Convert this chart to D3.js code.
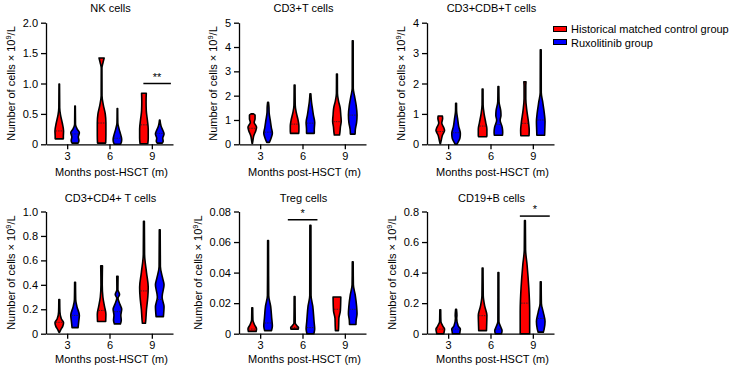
<!DOCTYPE html>
<html>
<head>
<meta charset="utf-8">
<script src="https://cdn.jsdelivr.net/npm/d3@7"></script>
<style>
body { margin: 0; background: #fff; }
svg { display: block; font-family: "Liberation Sans", Arial, sans-serif; }
</style>
</head>
<body>
<script>
const months = [3, 6, 9];
const groupNames = ['Historical matched control group', 'Ruxolitinib group'];
const groupColors = ['#ff0000', '#0000ff'];
const panelTitles = ['NK cells', 'CD3+T cells', 'CD3+CDB+T cells', 'CD3+CD4+ T cells', 'Treg cells', 'CD19+B cells'];
const yMax = [2, 5, 4, 1, 0.08, 0.8];
const yTicks = [
    [0, 0.5, 1, 1.5, 2],
    [0, 1, 2, 3, 4, 5],
    [0, 1, 2, 3, 4],
    [0, 0.2, 0.4, 0.6, 0.8, 1],
    [0, 0.02, 0.04, 0.06, 0.08],
    [0, 0.2, 0.4, 0.6, 0.8]
];
const yTickFormats = ['.1f', 'd', 'd', '.1f', '.2f', '.1f'];
const xLabel = 'Months post-HSCT (m)';

// each violin: month, group (0 = control, 1 = ruxolitinib), median,
// shape = [value, relative density width] from top to bottom
const nkViolins = [
    {month: 3, group: 0, median: 0.22, shape: [[0.99, 0.06], [0.6, 0.1], [0.48, 0.3], [0.35, 0.7], [0.22, 1], [0.12, 0.95], [0.09, 0.95]]},
    {month: 3, group: 1, median: 0.17, shape: [[0.63, 0.06], [0.33, 0.1], [0.25, 0.5], [0.19, 1], [0.12, 0.75], [0.06, 0.9], [0.02, 0.7]]},
    {month: 6, group: 0, median: 0.35, shape: [[1.42, 0.6], [1.35, 0.35], [1.25, 0.08], [0.8, 0.1], [0.65, 0.4], [0.5, 0.85], [0.35, 1], [0.15, 1], [0.02, 0.95]]},
    {month: 6, group: 1, median: 0.1, shape: [[0.59, 0.06], [0.35, 0.1], [0.25, 0.4], [0.15, 0.8], [0.08, 1], [0.03, 0.9], [0.0, 0.7]]},
    {month: 9, group: 0, median: 0.32, shape: [[0.84, 0.55], [0.7, 0.5], [0.55, 0.55], [0.4, 0.8], [0.25, 1], [0.1, 1], [0.01, 0.9]]},
    {month: 9, group: 1, median: 0.18, shape: [[0.4, 0.06], [0.3, 0.3], [0.2, 0.9], [0.17, 1], [0.1, 0.7], [0.05, 0.8], [0.02, 0.6]]}
];
const cd3Violins = [
    {month: 3, group: 0, median: 0.66, shape: [[1.25, 0.3], [1.2, 0.65], [1.05, 0.65], [0.9, 0.45], [0.7, 1], [0.55, 0.8], [0.35, 0.35], [0.15, 0.15], [0.04, 0.05]]},
    {month: 3, group: 1, median: 0.5, shape: [[1.73, 0.1], [1.55, 0.2], [1.3, 0.25], [1.0, 0.5], [0.7, 0.75], [0.45, 1], [0.25, 0.7], [0.08, 0.3]]},
    {month: 6, group: 0, median: 0.83, shape: [[2.44, 0.1], [1.6, 0.15], [1.3, 0.4], [1.0, 0.8], [0.75, 1], [0.55, 1], [0.45, 0.95]]},
    {month: 6, group: 1, median: 0.87, shape: [[2.08, 0.1], [1.75, 0.25], [1.5, 0.45], [1.2, 0.7], [0.9, 1], [0.6, 0.9], [0.45, 0.9]]},
    {month: 9, group: 0, median: 0.93, shape: [[2.89, 0.1], [2.1, 0.12], [1.8, 0.35], [1.5, 0.75], [1.2, 0.9], [0.95, 1], [0.7, 0.8], [0.5, 0.7], [0.38, 0.6]]},
    {month: 9, group: 1, median: 1.2, shape: [[4.26, 0.1], [2.3, 0.12], [2.0, 0.4], [1.6, 0.8], [1.2, 1], [0.9, 0.9], [0.6, 0.6], [0.42, 0.55]]}
];
const cd8Violins = [
    {month: 3, group: 0, median: 0.42, shape: [[0.93, 0.5], [0.85, 0.55], [0.7, 0.35], [0.55, 0.8], [0.45, 1], [0.3, 0.5], [0.15, 0.25], [0.02, 0.05]]},
    {month: 3, group: 1, median: 0.38, shape: [[1.35, 0.1], [1.1, 0.12], [0.85, 0.35], [0.6, 0.6], [0.35, 1], [0.2, 0.9], [0.08, 0.5], [0.0, 0.2]]},
    {month: 6, group: 0, median: 0.6, shape: [[1.82, 0.1], [1.3, 0.12], [1.0, 0.35], [0.7, 0.75], [0.5, 1], [0.3, 1], [0.25, 0.95]]},
    {month: 6, group: 1, median: 0.65, shape: [[1.9, 0.1], [1.4, 0.15], [1.1, 0.55], [0.95, 0.6], [0.8, 0.4], [0.55, 0.9], [0.4, 1], [0.3, 0.95]]},
    {month: 9, group: 0, median: 0.69, shape: [[2.06, 0.25], [1.9, 0.2], [1.5, 0.2], [1.1, 0.45], [0.7, 0.85], [0.45, 1], [0.28, 0.95]]},
    {month: 9, group: 1, median: 0.8, shape: [[3.11, 0.1], [1.7, 0.12], [1.4, 0.45], [1.0, 0.85], [0.75, 1], [0.5, 0.95], [0.3, 0.9]]}
];
const cd4Violins = [
    {month: 3, group: 0, median: 0.093, shape: [[0.28, 0.1], [0.18, 0.15], [0.12, 0.5], [0.09, 1], [0.06, 0.8], [0.03, 0.3], [0.01, 0.05]]},
    {month: 3, group: 1, median: 0.15, shape: [[0.42, 0.1], [0.28, 0.15], [0.22, 0.45], [0.15, 1], [0.1, 0.85], [0.05, 0.7]]},
    {month: 6, group: 0, median: 0.19, shape: [[0.555, 0.2], [0.4, 0.15], [0.3, 0.3], [0.22, 0.7], [0.16, 1], [0.1, 0.95]]},
    {month: 6, group: 1, median: 0.18, shape: [[0.47, 0.15], [0.36, 0.12], [0.32, 0.5], [0.29, 0.15], [0.24, 0.6], [0.2, 1], [0.15, 0.8], [0.11, 0.9], [0.08, 0.7]]},
    {month: 9, group: 0, median: 0.35, shape: [[0.92, 0.1], [0.65, 0.15], [0.5, 0.6], [0.38, 1], [0.3, 0.9], [0.2, 0.6], [0.1, 0.4], [0.085, 0.35]]},
    {month: 9, group: 1, median: 0.28, shape: [[0.85, 0.1], [0.55, 0.15], [0.45, 0.7], [0.4, 1], [0.3, 0.55], [0.22, 1], [0.16, 0.9], [0.14, 0.85]]}
];
const tregViolins = [
    {month: 3, group: 0, median: 0.003, shape: [[0.017, 0.1], [0.009, 0.15], [0.006, 0.5], [0.003, 1], [0.0015, 0.9]]},
    {month: 3, group: 1, median: 0.007, shape: [[0.061, 0.1], [0.025, 0.15], [0.018, 0.6], [0.01, 0.85], [0.005, 1], [0.002, 0.8]]},
    {month: 6, group: 0, median: 0.004, shape: [[0.0244, 0.1], [0.007, 0.15], [0.005, 0.6], [0.004, 0.9], [0.003, 0.85]]},
    {month: 6, group: 1, median: 0.004, shape: [[0.0709, 0.12], [0.025, 0.15], [0.018, 0.55], [0.008, 0.85], [0.003, 1], [0.0, 0.8]]},
    {month: 9, group: 0, median: 0.016, shape: [[0.024, 0.9], [0.015, 0.8], [0.01, 0.45], [0.005, 0.4], [0.002, 0.35]]},
    {month: 9, group: 1, median: 0.016, shape: [[0.047, 0.1], [0.032, 0.15], [0.025, 0.6], [0.018, 0.9], [0.013, 1], [0.009, 0.8], [0.006, 0.75]]}
];
const cd19Violins = [
    {month: 3, group: 0, median: 0.03, shape: [[0.157, 0.1], [0.08, 0.15], [0.05, 0.6], [0.03, 1], [0.01, 0.9], [0.0, 0.8]]},
    {month: 3, group: 1, median: 0.03, shape: [[0.16, 0.1], [0.12, 0.2], [0.1, 0.15], [0.05, 0.5], [0.03, 1], [0.01, 0.9], [0.0, 0.85]]},
    {month: 6, group: 0, median: 0.118, shape: [[0.43, 0.1], [0.25, 0.15], [0.18, 0.5], [0.12, 1], [0.06, 0.95], [0.02, 0.9]]},
    {month: 6, group: 1, median: 0.03, shape: [[0.4, 0.1], [0.08, 0.12], [0.04, 0.6], [0.02, 0.85], [0.0, 0.7]]},
    {month: 9, group: 0, median: 0.2, shape: [[0.74, 0.1], [0.55, 0.15], [0.45, 0.5], [0.3, 0.9], [0.15, 1.1], [0.0, 1.1]]},
    {month: 9, group: 1, median: 0.1, shape: [[0.34, 0.1], [0.2, 0.15], [0.14, 0.6], [0.08, 1], [0.03, 0.8], [0.01, 0.6]]}
];
const panelViolins = [nkViolins, cd3Violins, cd8Violins, cd4Violins, tregViolins, cd19Violins];

// significance bars: panel index, span in months, height in data units
const sigMarks = [
    {panel: 0, from: 8.4, to: 10.35, value: 1.0, label: '**'},
    {panel: 4, from: 4.96, to: 7.06, value: 0.0746, label: '*'},
    {panel: 5, from: 8.08, to: 10.2, value: 0.77, label: '*'}
];

const width = 738, height = 370;
const plotW = 127;
const colLeft = [46, 239, 427];
const rowTop = [22.7, 211.5], rowBottom = [144.3, 333.7];
const titleY = [12.3, 201.7], xLabelY = [176, 362.5];
const halfW = 4.3;
const groupShift = [-0.56, 0.56];

const svg = d3.select('body').append('svg')
    .attr('width', width)
    .attr('height', height);

panelViolins.forEach(function (violins, i) {
    const col = i % 3, row = Math.floor(i / 3);
    const left = colLeft[col];
    const x = d3.scaleLinear().domain([1.5, 10.5]).range([left, left + plotW]);
    const y = d3.scaleLinear().domain([0, yMax[i]]).range([rowBottom[row], rowTop[row]]);
    const g = svg.append('g');

    const fmt = d3.format(yTickFormats[i]);
    const yAxis = g.append('g')
        .attr('transform', 'translate(' + left + ',0)')
        .call(d3.axisLeft(y).tickValues(yTicks[i]).tickSize(5).tickSizeOuter(0).tickPadding(3)
            .tickFormat(d => d === 0 ? '0' : fmt(d)));
    g.append('g')
        .attr('transform', 'translate(0,' + rowBottom[row] + ')')
        .call(d3.axisBottom(x).tickValues(months).tickSize(5).tickSizeOuter(0).tickPadding(3));

    g.selectAll('.domain, .tick line').attr('stroke', '#000').attr('stroke-width', 1.3);
    g.selectAll('.tick text').attr('font-size', '11px').attr('fill', '#000')
        .attr('font-family', '"Liberation Sans", Arial, sans-serif');

    // y label placed left of the tick labels
    const tickLeft = left + yAxis.node().getBBox().x;
    const cy = (rowTop[row] + rowBottom[row]) / 2;
    const ylab = g.append('text')
        .attr('transform', 'translate(' + (tickLeft - 11.5 + 3.8) + ',' + cy + ') rotate(-90)')
        .attr('text-anchor', 'middle')
        .attr('font-size', '11px');
    ylab.append('tspan').text('Number of cells \u00d7 10');
    ylab.append('tspan').attr('font-size', '7.5px').attr('dy', '-4').text('9');
    ylab.append('tspan').attr('dy', '4').text('/L');

    g.append('text')
        .attr('x', left + plotW / 2 + 2)
        .attr('y', xLabelY[row])
        .attr('text-anchor', 'middle')
        .attr('font-size', '11px')
        .text(xLabel);

    g.append('text')
        .attr('x', left + plotW / 2 + 1)
        .attr('y', titleY[row])
        .attr('text-anchor', 'middle')
        .attr('font-size', '11px')
        .text(panelTitles[i]);

    violins.forEach(function (v) {
        const cx = x(v.month + groupShift[v.group]);
        const area = d3.area()
            .y(d => y(d[0]))
            .x0(d => cx - d[1] * halfW)
            .x1(d => cx + d[1] * halfW)
            .curve(d3.curveMonotoneY);
        g.append('path')
            .datum(v.shape)
            .attr('d', area)
            .attr('fill', groupColors[v.group])
            .attr('stroke', '#000')
            .attr('stroke-width', 1.6)
            .attr('stroke-linejoin', 'round');

        // width at the median, linear between shape points
        let w = v.shape[v.shape.length - 1][1];
        for (let k = 0; k < v.shape.length - 1; k++) {
            const a = v.shape[k], b = v.shape[k + 1];
            if (v.median <= a[0] && v.median >= b[0]) {
                const t = (a[0] - v.median) / (a[0] - b[0] || 1);
                w = a[1] + (b[1] - a[1]) * t;
                break;
            }
        }
        g.append('line')
            .attr('x1', cx - w * halfW + 0.6)
            .attr('x2', cx + w * halfW - 0.6)
            .attr('y1', y(v.median))
            .attr('y2', y(v.median))
            .attr('stroke', '#222')
            .attr('stroke-width', 0.8)
            .attr('stroke-dasharray', '1.5,1');
    });

    sigMarks.filter(s => s.panel === i).forEach(function (s) {
        g.append('line')
            .attr('x1', x(s.from)).attr('x2', x(s.to))
            .attr('y1', y(s.value)).attr('y2', y(s.value))
            .attr('stroke', '#000').attr('stroke-width', 1.5);
        g.append('text')
            .attr('x', (x(s.from) + x(s.to)) / 2)
            .attr('y', y(s.value) - 3)
            .attr('text-anchor', 'middle')
            .attr('font-size', '11px')
            .text(s.label);
    });
});

// legend
const legend = svg.append('g');
groupNames.forEach(function (name, k) {
    legend.append('rect')
        .attr('x', 553.5).attr('y', 26.5 + k * 13)
        .attr('width', 13).attr('height', 5)
        .attr('fill', groupColors[k])
        .attr('stroke', '#000').attr('stroke-width', 1);
    legend.append('text')
        .attr('x', 571).attr('y', 32.8 + k * 14.2)
        .attr('font-size', '11px')
        .text(name);
});
</script>
</body>
</html>
